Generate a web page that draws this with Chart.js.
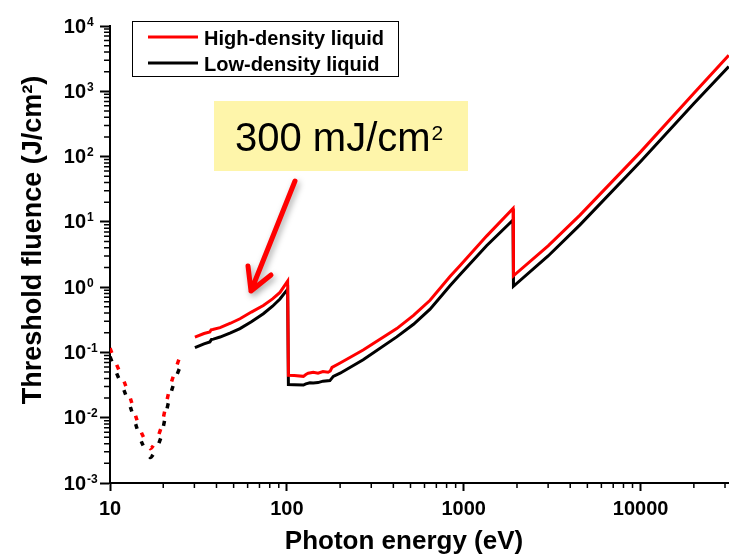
<!DOCTYPE html>
<html>
<head>
<meta charset="utf-8">
<script src="https://cdn.jsdelivr.net/npm/chart.js@4.4.1/dist/chart.umd.min.js"></script>
<style>
  html, body { margin: 0; padding: 0; background: #fff; }
  #chart { display: block; }
</style>
</head>
<body>
<canvas id="chart" width="729" height="559"></canvas>
<script>
// High-density liquid (red) - dotted part below 26 eV, solid part above 30 eV
const hdlDotEnergy = [10, 10.9, 12.05, 13.1, 14.0, 15.1, 16.9, 18.3, 19.5, 20.7, 21.8, 23.3, 25.4];
const hdlDotFluence = [0.116, 0.065, 0.035, 0.019, 0.0104, 0.0058, 0.00335, 0.0045, 0.0072, 0.0155, 0.029, 0.052, 0.103];
const hdlEnergy = [30.2, 34, 36.7, 37.3, 38.1, 41.9, 48, 54.3, 63, 73.6, 83, 91.4, 101,
  102, 110, 124, 128, 132, 141, 150, 160, 171, 176, 180, 200, 270, 418, 520, 645, 836, 951, 1346, 1900,
  1910, 3000, 4540, 10000, 20000, 31500];
const hdlFluence = [0.172, 0.195, 0.206, 0.222, 0.224, 0.24, 0.28, 0.328, 0.415, 0.523, 0.66, 0.831, 1.24,
  0.0446, 0.0445, 0.043, 0.046, 0.048, 0.0497, 0.048, 0.051, 0.0497, 0.052, 0.0589, 0.069, 0.109, 0.232, 0.37, 0.63, 1.45, 2.13, 6.05, 16.0,
  1.49, 4.3, 12.7, 118, 930, 3550];

// Low-density liquid (black)
const ldlDotEnergy = [10, 10.9, 12.05, 13.1, 14.0, 15.1, 16.9, 18.3, 19.5, 20.7, 21.8, 23.3, 25.7];
const ldlDotFluence = [0.086, 0.048, 0.0255, 0.014, 0.0078, 0.0042, 0.00245, 0.0033, 0.0052, 0.0115, 0.021, 0.038, 0.0743];
const ldlEnergy = [30.2, 34, 36.7, 37.5, 38.4, 41.9, 48, 54.3, 63, 73.6, 83, 91.4, 101,
  102, 110, 124, 128, 135, 141, 150, 160, 175, 183, 200, 270, 418, 520, 645, 836, 951, 1346, 1900,
  1910, 3000, 4540, 10000, 20000, 31500];
const ldlFluence = [0.118, 0.135, 0.145, 0.158, 0.16, 0.172, 0.2, 0.232, 0.295, 0.391, 0.51, 0.658, 0.93,
  0.0322, 0.032, 0.0316, 0.033, 0.0343, 0.034, 0.0345, 0.0363, 0.037, 0.043, 0.048, 0.077, 0.173, 0.27, 0.46, 1.05, 1.55, 4.3, 10.7,
  1.03, 3.0, 9.0, 84, 650, 2400];

// axes
const xMajorTicks = [10, 100, 1000, 10000];
const xTickLabels = ['10', '100', '1000', '10000'];
const yMajorTicks = [1e-3, 1e-2, 1e-1, 1e0, 1e1, 1e2, 1e3, 1e4];
const yExponents = ['-3', '-2', '-1', '0', '1', '2', '3', '4'];
const xMin = 10, xMax = 31600, yMin = 1e-3, yMax = 1e4;
const xTitle = 'Photon energy (eV)';
const yTitle = 'Threshold fluence (J/cm²)';

const xMinorTicks = [];
[10, 100, 1000, 10000].forEach(d => {
  for (let k = 2; k <= 9; k++) if (d * k < xMax) xMinorTicks.push(d * k);
});
const yMinorTicks = [];
yMajorTicks.slice(0, -1).forEach(d => {
  for (let k = 2; k <= 9; k++) yMinorTicks.push(d * k);
});

const FONT = '"Liberation Sans", Arial, sans-serif';
const Y_TICK_LEN = 10, Y_TICK_PAD = 14;

const toPoints = (xs, ys) => xs.map((x, i) => ({ x: x, y: ys[i] }));

const extras = {
  id: 'extras',
  afterDraw(chart) {
    const { ctx } = chart;
    const x = chart.scales.x, y = chart.scales.y;
    ctx.save();

    // minor ticks
    ctx.strokeStyle = '#000';
    ctx.lineWidth = 1.5;
    ctx.beginPath();
    xMinorTicks.forEach(v => {
      const px = x.getPixelForValue(v);
      ctx.moveTo(px, x.top);
      ctx.lineTo(px, x.top + 5);
    });
    yMinorTicks.forEach(v => {
      const py = y.getPixelForValue(v);
      ctx.moveTo(y.right, py);
      ctx.lineTo(y.right - 6, py);
    });
    ctx.stroke();

    // exponents of the y tick labels
    ctx.fillStyle = '#000';
    ctx.font = 'bold 12px ' + FONT;
    ctx.textAlign = 'left';
    ctx.textBaseline = 'alphabetic';
    const labelRight = y.right - Y_TICK_LEN - Y_TICK_PAD;
    yMajorTicks.forEach((v, i) => {
      ctx.fillText(yExponents[i], labelRight + 1, y.getPixelForValue(v) - 0.5);
    });

    // axis titles
    ctx.textBaseline = 'middle';
    ctx.textAlign = 'center';
    ctx.font = 'bold 26px ' + FONT;
    ctx.fillText(xTitle, 404, 542);
    ctx.save();
    ctx.translate(34, 240);
    ctx.rotate(-Math.PI / 2);
    ctx.font = 'bold 27px ' + FONT;
    ctx.fillText(yTitle, 0, 0);
    ctx.restore();
    ctx.textAlign = 'left';
    ctx.textBaseline = 'alphabetic';

    // legend
    ctx.fillStyle = '#fff';
    ctx.fillRect(132, 21, 266, 55);
    ctx.strokeStyle = '#000';
    ctx.lineWidth = 1;
    ctx.strokeRect(132.5, 21.5, 266, 55);
    const shown = chart.data.datasets.filter(d => !d.dotted);
    shown.forEach((d, i) => {
      const ly = 37 + i * 26;
      ctx.strokeStyle = d.borderColor;
      ctx.lineWidth = 3;
      ctx.beginPath();
      ctx.moveTo(148, ly);
      ctx.lineTo(198, ly);
      ctx.stroke();
      ctx.fillStyle = '#000';
      ctx.font = 'bold 20px ' + FONT;
      ctx.fillText(d.label, 204, ly + 7.5);
    });

    // annotation box
    ctx.fillStyle = 'rgb(254, 245, 170)';
    ctx.fillRect(214, 101, 254, 70);
    ctx.fillStyle = '#000';
    ctx.font = '40px ' + FONT;
    const main = '300 mJ/cm';
    ctx.fillText(main, 235, 151);
    const w = ctx.measureText(main).width;
    ctx.font = '21px ' + FONT;
    ctx.fillText('2', 235 + w + 1, 140);

    // arrow
    ctx.strokeStyle = '#ff0000';
    ctx.lineWidth = 5;
    ctx.lineCap = 'round';
    ctx.lineJoin = 'round';
    ctx.shadowColor = 'rgba(0,0,0,0.35)';
    ctx.shadowBlur = 6;
    ctx.shadowOffsetX = 2;
    ctx.shadowOffsetY = 3;
    ctx.beginPath();
    ctx.moveTo(295, 181);
    ctx.lineTo(251, 291);
    ctx.moveTo(248, 266);
    ctx.lineTo(251, 291);
    ctx.lineTo(271, 275);
    ctx.stroke();

    ctx.restore();
  }
};

Chart.defaults.font.family = FONT;
Chart.defaults.color = '#000';

new Chart(document.getElementById('chart'), {
  type: 'line',
  data: {
    datasets: [
      {
        label: 'High-density liquid',
        data: toPoints(hdlEnergy, hdlFluence),
        borderColor: '#ff0000',
        borderWidth: 3,
        pointRadius: 0,
        tension: 0,
      },
      {
        label: 'Low-density liquid',
        data: toPoints(ldlEnergy, ldlFluence),
        borderColor: '#000000',
        borderWidth: 3,
        pointRadius: 0,
        tension: 0,
      },
      {
        label: 'High-density liquid (dotted)',
        dotted: true,
        data: toPoints(hdlDotEnergy, hdlDotFluence),
        borderColor: '#ff0000',
        borderWidth: 3.5,
        borderDash: [5, 13],
        pointRadius: 0,
        tension: 0.2,
      },
      {
        label: 'Low-density liquid (dotted)',
        dotted: true,
        data: toPoints(ldlDotEnergy, ldlDotFluence),
        borderColor: '#000000',
        borderWidth: 3.5,
        borderDash: [5, 13],
        pointRadius: 0,
        tension: 0.2,
      },
    ],
  },
  options: {
    responsive: false,
    animation: false,
    layout: { padding: { top: 21, right: 0, left: 0, bottom: 0 } },
    plugins: {
      legend: { display: false },
      tooltip: { enabled: false },
    },
    scales: {
      x: {
        type: 'logarithmic',
        min: xMin,
        max: xMax,
        afterBuildTicks: (scale) => { scale.ticks = xMajorTicks.map(v => ({ value: v })); },
        afterFit: (scale) => { scale.height = 76; },
        grid: { drawOnChartArea: false, tickLength: 8, tickWidth: 2, tickColor: '#000' },
        border: { color: '#000', width: 2 },
        ticks: {
          autoSkip: false,
          maxRotation: 0,
          padding: 6,
          font: { size: 20, weight: 'bold' },
          callback: (value, index) => xTickLabels[index],
        },
      },
      y: {
        type: 'logarithmic',
        min: yMin,
        max: yMax,
        afterBuildTicks: (scale) => { scale.ticks = yMajorTicks.map(v => ({ value: v })); },
        afterFit: (scale) => { scale.width = 110; },
        grid: { drawOnChartArea: false, tickLength: Y_TICK_LEN, tickWidth: 2, tickColor: '#000' },
        border: { color: '#000', width: 2 },
        ticks: {
          autoSkip: false,
          padding: Y_TICK_PAD,
          labelOffset: 1,
          font: { size: 20, weight: 'bold' },
          callback: () => '10',
        },
      },
    },
  },
  plugins: [extras],
});
</script>
</body>
</html>
